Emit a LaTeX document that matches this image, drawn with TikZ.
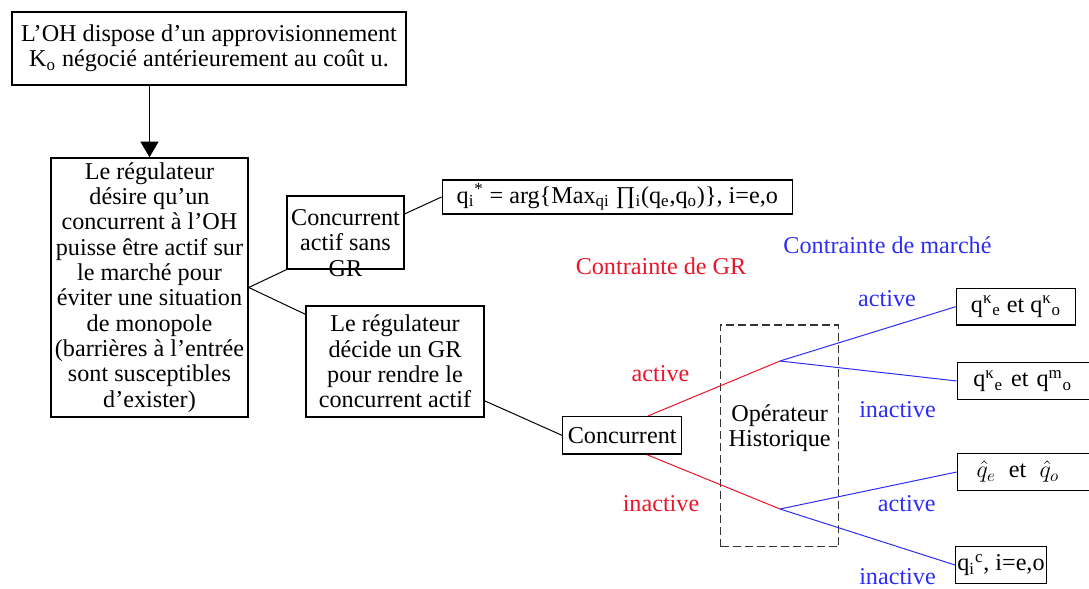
\documentclass[tikz,border=0pt]{standalone}
\usepackage{fontspec}
\setmainfont{Liberation Serif}
\usepackage{tikz}
\usetikzlibrary{arrows.meta,calc}
\definecolor{grred}{RGB}{235,20,40}
\definecolor{mkblue}{RGB}{45,45,245}

\begin{document}
\begin{tikzpicture}[x=0.6pt,y=-0.6pt,>={Triangle[length=9.4pt,width=10.8pt]}]
\tikzstyle{every node}=[font=\fontsize{14.5}{15.2}\selectfont]
\tikzstyle{box}=[draw, line width=0.9pt, align=center, inner sep=1pt]
\tikzstyle{res}=[draw, line width=0.9pt, inner sep=1pt, minimum height=22pt]
\tikzstyle{link}=[line width=0.6pt]
\useasboundingbox (0,0) rectangle (1089,589);
\clip (0,0) rectangle (1089,589);

% Regulator side
\node[box, minimum width=236.4pt, minimum height=43.8pt] (oh) at (209,48.5) {L’OH dispose d’un approvisionnement\\K\textsubscript{o} négocié antérieurement au coût u.};
\node[box, minimum width=118.2pt, minimum height=155.4pt] (reg) at (149.5,287.5) {Le régulateur\\désire qu’un\\concurrent à l’OH\\puisse être actif sur\\le marché pour\\éviter une situation\\de monopole\\(barrières à l’entrée\\sont susceptibles\\d’exister)};
\draw[->, line width=0.9pt] (oh.south -| reg.north) -- (reg.north);

% Concurrent without GR
\node[box, minimum width=70.2pt, minimum height=43.8pt] (sans) at (345.5,232.5) {};
\node[align=center, inner sep=0pt] (sanstxt) at (345.5,243) {Concurrent\\actif sans\\GR};
\node[box, minimum width=210pt, minimum height=20.6pt] (qstar) at (617.3,197) {q\textsubscript{i}\textsuperscript{*} = arg\{Max\textsubscript{qi} ∏\textsubscript{i}(q\textsubscript{e},q\textsubscript{o})\}, i=e,o};
\draw[link] (reg.east) -- (sans.south west);
\draw[link] ($(sans.north east)!0.25!(sans.south east)$) -- (qstar.west);

% Concurrent with GR
\node[box, minimum width=106.8pt, minimum height=66.6pt] (decide) at (395,361.5) {Le régulateur\\décide un GR\\pour rendre le\\concurrent actif};
\node[box, minimum width=71.4pt, minimum height=22.4pt] (conc) at (622.2,435.3) {Concurrent};
\draw[link] (reg.east) -- ($(decide.north west)+(0,9)$);
\draw[link] ($(decide.east)!0.7!(decide.south east)$) -- (conc.west);

% Operateur historique
\node[draw, dash pattern=on 4.8pt off 2.4pt, line width=0.8pt, draw=black!80, minimum width=70.8pt, minimum height=133pt] (oph) at (779.7,435.8) {};
\node[align=center, inner sep=0pt] (ophtxt) at (779.7,428) {Opérateur\\Historique};
\coordinate (ga) at (780,361);
\coordinate (gi) at (780,509);
\draw[link, grred] ($(conc.north)!0.43!(conc.north east)$) -- (ga);
\draw[link, grred] ($(conc.south)!0.41!(conc.south east)$) -- (gi);

% Results
\node[res, minimum width=71.4pt] (kk) at (1016,306.7) {q\textsuperscript{κ}\textsubscript{e} et q\textsuperscript{κ}\textsubscript{o}};
\node[res, anchor=west, text width=70pt, align=left, inner xsep=9.5pt] (km) at (956.7,381) {q\textsuperscript{κ}\textsubscript{e} et q\textsuperscript{m}\textsubscript{o}};
\node[res, anchor=west, text width=70pt, align=left, inner xsep=11.5pt] (hat) at (956.7,472) {$\hat{q}_e$\hspace{8pt}et\hspace{8pt}$\hat{q}_o$};
\node[res, minimum width=53.4pt] (qc) at (1001,565) {q\textsubscript{i}\textsuperscript{c}, i=e,o};
\foreach \a/\b in {ga/kk, ga/km, gi/hat, gi/qc}
  \draw[link, mkblue] (\a) -- (\b.west);

% Labels
\node[text=grred] (lgr) at (661,266) {Contrainte de GR};
\node[text=mkblue] (lmar) at (887.5,245) {Contrainte de marché};
\foreach \n/\x/\y/\t in {ra/660.5/373.5/active, ri/661/503.5/inactive}
  \node[text=grred] (\n) at (\x,\y) {\t};
\foreach \n/\x/\y/\t in {ba/887/299/active, bi/897.5/410/inactive, bc/906.7/503.5/active, bd/897.5/577/inactive}
  \node[text=mkblue] (\n) at (\x,\y) {\t};
\end{tikzpicture}
\end{document}
